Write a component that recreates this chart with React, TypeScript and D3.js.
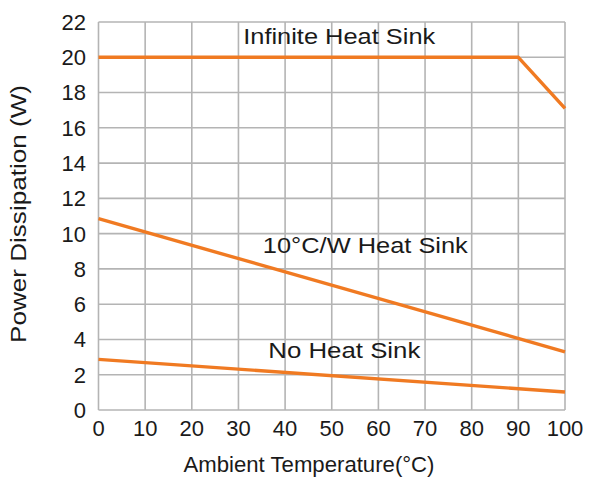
import * as d3 from 'd3';

const xTicks = [0, 10, 20, 30, 40, 50, 60, 70, 80, 90, 100];
const yTicks = [0, 2, 4, 6, 8, 10, 12, 14, 16, 18, 20, 22];

const infiniteTemp = [0, 90, 100];
const infinitePower = [20, 20, 17.1];
const heatSinkTemp = [0, 100];
const heatSinkPower = [10.85, 3.3];
const noSinkTemp = [0, 100];
const noSinkPower = [2.87, 1.02];

const seriesLabels = [
  { text: 'Infinite Heat Sink', x: 51.6, y: 20.73, len: 192 },
  { text: '10°C/W Heat Sink', x: 57.2, y: 8.88, len: 205 },
  { text: 'No Heat Sink', x: 52.7, y: 2.93, len: 152 },
];

const width = 589;
const height = 484;
const margin = { top: 22, right: 24, bottom: 74, left: 98.5 };
const font = 'Arial, "Liberation Sans", sans-serif';
const orange = '#f07a22';

export default function App() {
  const x = d3.scaleLinear().domain([0, 100]).range([margin.left, width - margin.right]);
  const y = d3.scaleLinear().domain([0, 22]).range([height - margin.bottom, margin.top]);

  const line = d3.line<[number, number]>()
    .x(d => x(d[0]))
    .y(d => y(d[1]));

  const series = [
    d3.zip(infiniteTemp, infinitePower) as [number, number][],
    d3.zip(heatSinkTemp, heatSinkPower) as [number, number][],
    d3.zip(noSinkTemp, noSinkPower) as [number, number][],
  ];

  return (
    <svg width={width} height={height} style={{ position: 'absolute', left: 0, top: 0 }}>
      <rect width={width} height={height} fill="#fff" />
      {/* grid */}
      <g stroke="#b4b4b4" strokeWidth={1.6}>
        {xTicks.map(t => (
          <line key={'x' + t} x1={x(t)} x2={x(t)} y1={y(0)} y2={y(22)} />
        ))}
        {yTicks.map(t => (
          <line key={'y' + t} x1={x(0)} x2={x(100)} y1={y(t)} y2={y(t)} />
        ))}
      </g>
      {/* curves */}
      {series.map((s, i) => (
        <path key={i} d={line(s) ?? ''} fill="none" stroke={orange} strokeWidth={3.4} strokeLinejoin="round" />
      ))}
      {/* series labels */}
      {seriesLabels.map(l => (
        <text key={l.text} x={x(l.x)} y={y(l.y)} textAnchor="middle" fontFamily={font}
          fontSize={22} fill="#1a1a1a" textLength={l.len} lengthAdjust="spacingAndGlyphs">
          {l.text}
        </text>
      ))}
      {/* y tick labels */}
      {yTicks.map(t => (
        <text key={'yl' + t} x={86} y={y(t)} dy="0.36em" textAnchor="end" fontFamily={font}
          fontSize={22} fill="#1a1a1a">{t}</text>
      ))}
      {/* x tick labels */}
      {xTicks.map(t => (
        <text key={'xl' + t} x={x(t)} y={436} textAnchor="middle" fontFamily={font}
          fontSize={22} fill="#1a1a1a">{t}</text>
      ))}
      <text x={309} y={472} textAnchor="middle" fontFamily={font} fontSize={22} fill="#1a1a1a"
        textLength={251} lengthAdjust="spacingAndGlyphs">Ambient Temperature(°C)</text>
      <text transform="translate(26,214) rotate(-90)" textAnchor="middle" fontFamily={font}
        fontSize={22} fill="#1a1a1a" textLength={258} lengthAdjust="spacingAndGlyphs">Power Dissipation (W)</text>
    </svg>
  );
}
